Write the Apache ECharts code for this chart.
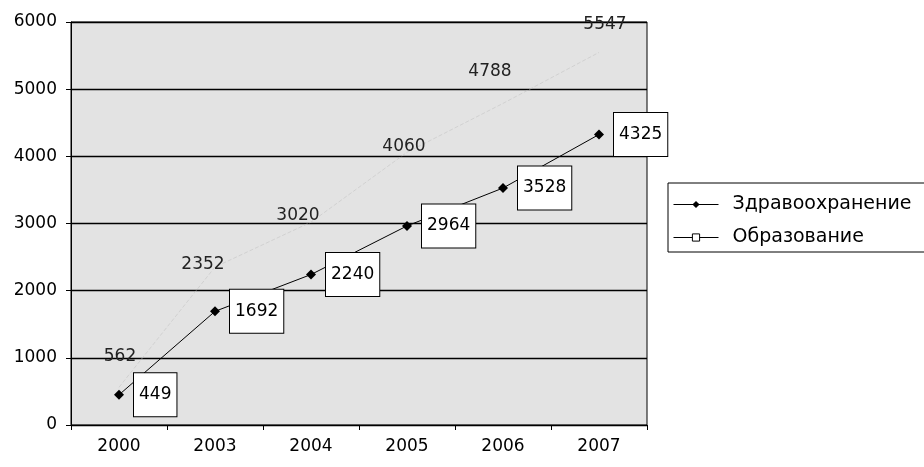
<!DOCTYPE html>
<html>
<head>
<meta charset="utf-8">
<script src="https://cdn.jsdelivr.net/npm/echarts@6/dist/echarts.min.js"></script>
<style>html,body{margin:0;padding:0;background:#fff}#c{width:924px;height:467px}</style>
</head>
<body>
<div id="c"></div>
<script>
const years = ['2000', '2003', '2004', '2005', '2006', '2007'];
const health = [449, 1692, 2240, 2964, 3528, 4325];
const education = [562, 2352, 3020, 4060, 4788, 5547];
const yTicks = [0, 1000, 2000, 3000, 4000, 5000, 6000];

// label offsets for the education series (style only)
const eduLabelOffset = [[1, -31], [-12, -2], [-13, -7], [-3, -6], [-13, -32], [6, -28]];

const font = 'DejaVu Sans, sans-serif';
const chart = echarts.init(document.getElementById('c'), null, {renderer: 'canvas'});
chart.setOption({
  animation: false,
  backgroundColor: '#fff',
  textStyle: {fontFamily: font},
  grid: {left: 71, right: 277, top: 22, bottom: 42, show: true, borderColor: '#000', borderWidth: 1, backgroundColor: '#e3e3e3'},
  legend: {
    orient: 'vertical', left: 668, top: 183,
    backgroundColor: '#fff', borderColor: '#000', borderWidth: 1,
    padding: [12, 20, 5, 5], itemGap: 14, itemWidth: 45, itemHeight: 9,
    textStyle: {fontSize: 19, color: '#000', fontFamily: font, padding: [0, 0, 0, 9]},
    data: [
      {name: 'Здравоохранение', itemStyle: {color: '#000'}, lineStyle: {color: '#000', width: 1}},
      {name: 'Образование', itemStyle: {color: '#fff', borderColor: '#000', borderWidth: 1, opacity: 1}, lineStyle: {color: '#000', width: 1, opacity: 1, type: 'solid'}}
    ]
  },
  xAxis: {
    type: 'category', data: years, boundaryGap: true,
    axisLine: {lineStyle: {color: '#000', width: 1}},
    axisTick: {show: true, length: 5, lineStyle: {color: '#000'}},
    axisLabel: {fontSize: 17, color: '#000', margin: 13, fontFamily: font}
  },
  yAxis: {
    type: 'value', min: yTicks[0], max: yTicks[yTicks.length - 1], interval: 1000,
    axisLine: {show: true, lineStyle: {color: '#000', width: 1}},
    axisTick: {show: true, length: 5, lineStyle: {color: '#000'}},
    axisLabel: {fontSize: 17, color: '#000', margin: 14, fontFamily: font, formatter: v => String(v)},
    splitLine: {show: true, lineStyle: {color: '#000', width: 1.3}}
  },
  series: [
    {
      name: 'Образование', type: 'line',
      data: education.map((v, i) => ({value: v, label: {offset: eduLabelOffset[i]}})),
      symbol: 'rect', symbolSize: 8,
      itemStyle: {color: 'rgba(0,0,0,0)', borderColor: 'rgba(0,0,0,0)', borderWidth: 0},
      lineStyle: {color: '#c4c4c4', width: 1, type: 'dashed', opacity: 0.6},
      label: {show: true, position: 'inside', fontSize: 17, color: '#222', fontFamily: font},
      z: 2
    },
    {
      name: 'Здравоохранение', type: 'line', data: health,
      symbol: 'diamond', symbolSize: 10,
      itemStyle: {color: '#000'},
      lineStyle: {color: '#000', width: 1},
      label: {show: true, position: 'right', distance: 10, fontSize: 17, color: '#000', fontFamily: font,
        backgroundColor: '#fff', borderColor: '#000', borderWidth: 1, padding: [13, 5, 13, 5]},
      z: 3
    }
  ]
});
</script>
</body>
</html>
